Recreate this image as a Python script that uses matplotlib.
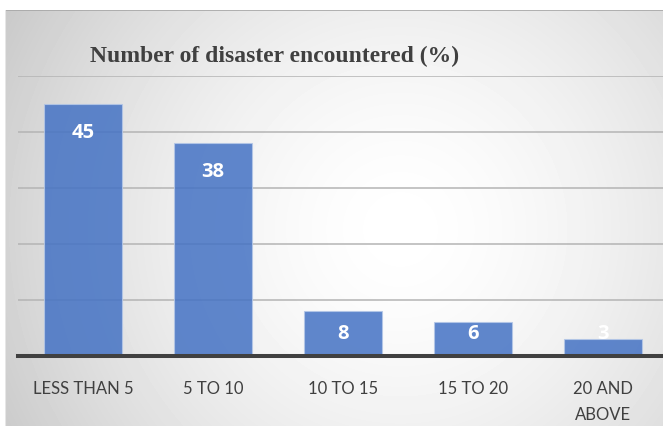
import numpy as np
import matplotlib.pyplot as plt

## chart data
categories = ['LESS THAN 5', '5 TO 10', '10 TO 15', '15 TO 20', '20 AND\nABOVE']
values = [45, 38, 8, 6, 3]
yticks = [0, 10, 20, 30, 40, 50]

W, H = 663, 427
fig = plt.figure(figsize=(W / 100, H / 100), dpi=100)
fig.patch.set_facecolor('white')

## radial gradient background inside the chart frame
bg = fig.add_axes([5 / W, 0, 1 - 5 / W, (H - 11) / H])
yy, xx = np.mgrid[11:H, 5:W]
r = np.hypot(xx - 400, yy - 230) / 450
shade = np.clip(1 - 0.21 * r ** 1.6, 0, 1)
bg.imshow(shade, cmap='gray', vmin=0, vmax=1, aspect='auto', extent=[0, 1, 0, 1])
bg.plot([0, 1], [1, 1], color='#a6a6a6', lw=1.2, transform=bg.transAxes)
bg.plot([0, 0], [0, 1], color='#e6e6e6', lw=1.5, transform=bg.transAxes)
bg.set_axis_off()

## main plot area (runs past the right edge, like the cropped original)
ax = fig.add_axes([18 / W, (H - 357) / H, 650 / W, 280 / H])
ax.patch.set_alpha(0)
ax.set_xlim(-0.5, len(categories) - 0.5)
ax.set_ylim(0, 50)
ax.set_yticks(yticks)
ax.yaxis.grid(True, color='#b4b4b4', lw=1.1)
ax.set_axisbelow(True)
ax.tick_params(axis='y', left=False, labelleft=False)
for s in ax.spines.values():
    s.set_visible(False)

x = np.arange(len(categories))
ax.bar(x, values, width=0.6, color='#4472C4', alpha=0.85, edgecolor='#b4c7e7', linewidth=0.8, zorder=2)
ax.axhline(0, color='#404040', lw=2.9, zorder=3, clip_on=False)

for xi, v in zip(x, values):
    ax.text(xi, max(v - 5, 4.1), str(v), ha='center', va='center', color='white',
            fontsize=14.5, fontweight='bold', family=['Open Sans', 'DejaVu Sans'], zorder=4)

ax.set_xticks(x)
ax.set_xticklabels(categories, fontsize=12, color='#404040', linespacing=1.75,
                   family=['Lato', 'DejaVu Sans'])
ax.tick_params(axis='x', bottom=False, pad=14)

fig.text(275 / W, 1 - 56 / H, 'Number of disaster encountered (%)', ha='center', va='center',
         fontsize=17, fontweight='bold', color='#404040', family=['Liberation Serif', 'DejaVu Serif'])

fig.savefig('out.png', dpi=100)
